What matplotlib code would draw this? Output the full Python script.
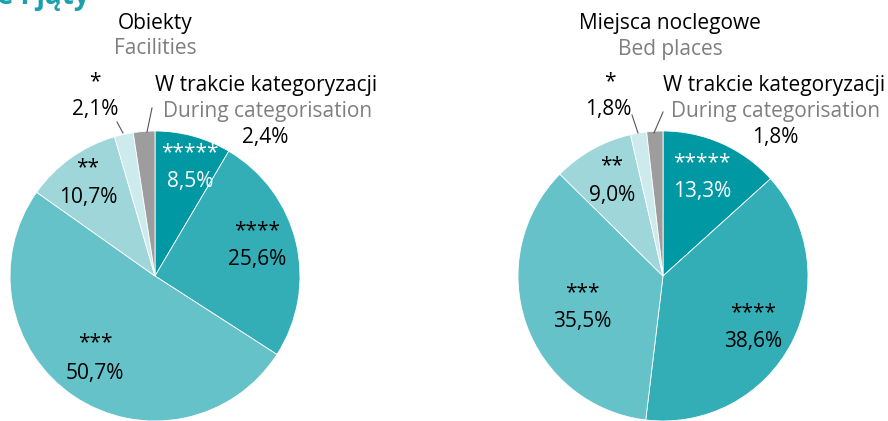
import matplotlib
matplotlib.use("Agg")
import matplotlib.pyplot as plt

plt.rcParams['font.family'] = ['Open Sans', 'DejaVu Sans']

# kategorie (od 5 gwiazdek zgodnie z ruchem wskazowek zegara)
kategorie = ['*****', '****', '***', '**', '*', 'W trakcie kategoryzacji']
kolory = ['#0099a3', '#33adb6', '#66c2c9', '#9ed6da', '#cdebed', '#9d9d9d']

obiekty = [8.5, 25.6, 50.7, 10.7, 2.1, 2.4]
miejsca = [13.3, 38.6, 35.5, 9.0, 1.8, 1.8]

SZARY = '#7f7f7f'
H = 421


def pct(v):
    return f"{v:.1f}".replace('.', ',') + '%'


def y(p):
    # piksele od gory -> wspolrzedne osi
    return H - p


fig = plt.figure(figsize=(8.88, 4.21), dpi=100)
ax = fig.add_axes([0, 0, 1, 1])

for cx, vals in [(155, obiekty), (663, miejsca)]:
    ax.pie(vals, colors=kolory, startangle=90, counterclock=False,
           center=(cx, y(276)), radius=145,
           wedgeprops=dict(edgecolor='white', linewidth=0.6))

ax.set_xlim(0, 888)
ax.set_ylim(0, H)
ax.set_aspect('equal')
ax.axis('off')

fs = 15

# tytul (uciety u gory, tak jak w oryginale)
ax.text(-3, y(4), 'e i jąty', color='#1aa0aa', fontsize=20, fontweight='bold',
        ha='left', va='baseline')

# naglowki
ax.text(155, y(23), 'Obiekty', fontsize=fs, ha='center', va='center')
ax.text(155, y(49), 'Facilities', fontsize=fs, ha='center', va='center', color=SZARY)
ax.text(670, y(23), 'Miejsca noclegowe', fontsize=fs, ha='center', va='center')
ax.text(670, y(49), 'Bed places', fontsize=fs, ha='center', va='center', color=SZARY)

# etykiety wewnatrz - obiekty
wew_l = [((190, 153), (190, 181), 'white'),
         ((257, 231), (257, 259), 'black'),
         ((95, 343), (95, 374), 'black'),
         ((88, 168), (88, 198), 'black')]
for i, (p1, p2, c) in enumerate(wew_l):
    ax.text(p1[0], y(p1[1]), kategorie[i], fontsize=fs, ha='center', va='center', color=c)
    ax.text(p2[0], y(p2[1]), pct(obiekty[i]), fontsize=fs, ha='center', va='center', color=c)

# etykiety wewnatrz - miejsca
wew_p = [((702, 163), (702, 191), 'white'),
         ((753, 313), (753, 341), 'black'),
         ((582, 293), (582, 321), 'black'),
         ((612, 166), (612, 195), 'black')]
for i, (p1, p2, c) in enumerate(wew_p):
    ax.text(p1[0], y(p1[1]), kategorie[i], fontsize=fs, ha='center', va='center', color=c)
    ax.text(p2[0], y(p2[1]), pct(miejsca[i]), fontsize=fs, ha='center', va='center', color=c)

# etykiety zewnetrzne
for vals, star_x, star_pct_x, wk_x, dc_x, pct_x, l1, l2 in [
        (obiekty, 95, 95, 155, 163, 265,
         [(117, 122), (123, 133)], [(152, 108), (147, 132)]),
        (miejsca, 610, 608, 663, 671, 775,
         [(632, 115), (638, 133)], [(663, 112), (654, 133)])]:
    ax.text(star_x, y(82), kategorie[4], fontsize=fs, ha='center', va='center')
    ax.text(star_pct_x, y(109), pct(vals[4]), fontsize=fs, ha='center', va='center')
    ax.text(wk_x, y(85), kategorie[5], fontsize=fs, ha='left', va='center')
    ax.text(dc_x, y(111), 'During categorisation', fontsize=fs, ha='left', va='center',
            color=SZARY)
    ax.text(pct_x, y(137), pct(vals[5]), fontsize=fs, ha='center', va='center')
    ax.plot([l1[0][0], l1[1][0]], [y(l1[0][1]), y(l1[1][1])], color='#555555', lw=0.8)
    ax.plot([l2[0][0], l2[1][0]], [y(l2[0][1]), y(l2[1][1])], color='#555555', lw=0.8)

fig.savefig('out.png', dpi=100)
